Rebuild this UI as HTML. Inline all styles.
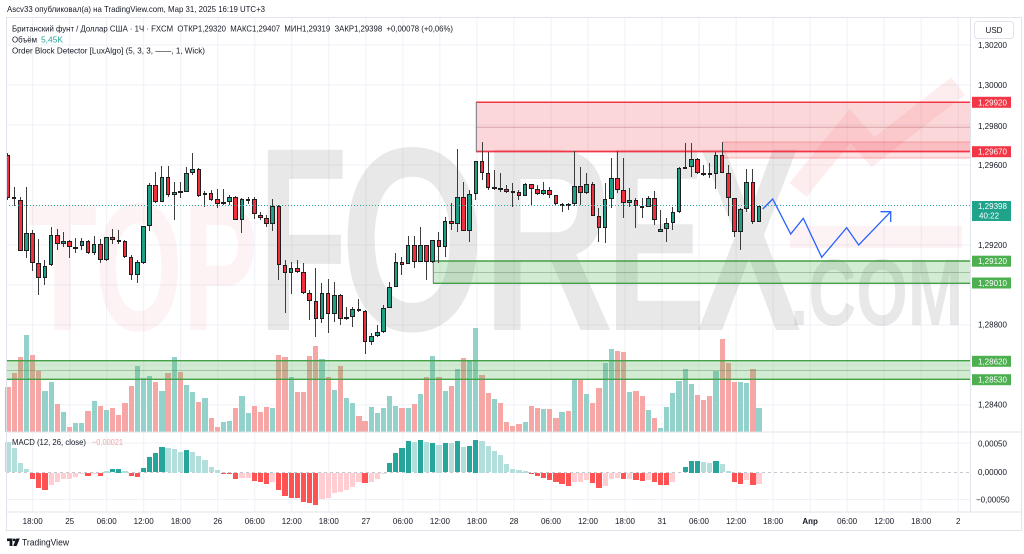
<!DOCTYPE html>
<html><head><meta charset="utf-8">
<style>
html,body{margin:0;padding:0;background:#fff;overflow:hidden;width:1024px;height:554px;}
.L{position:absolute;left:0;top:0;width:1024px;height:554px;}
svg{display:block;font-family:"Liberation Sans","DejaVu Sans",sans-serif;}
.ax{font-size:8px;fill:#131722;}
.wl{font-size:8px;fill:#fff;}
.row{position:absolute;left:4.915px;top:0;height:554px;display:flex;}
.row>i{position:relative;display:block;width:6.17px;height:554px;flex:none;font-style:normal;}
.vr>i::before{content:"";position:absolute;left:0.5px;width:5.2px;top:calc(var(--v)*1px);height:calc((431.7 - var(--v))*1px);background:#f6a7a5;}
.vr>i.g::before{background:#92d2cb;}
.cr>i::before{content:"";position:absolute;left:2.585px;width:1px;top:calc(var(--h)*1px);height:calc((var(--l) - var(--h))*1px);background:#3d3d3d;}
.cr>i::after{content:"";position:absolute;box-sizing:border-box;left:0.785px;width:4.6px;top:calc(min(var(--o),var(--c))*1px);height:calc(max(1.2, max(var(--o),var(--c)) - min(var(--o),var(--c)))*1px);background:#f0303f;border:0.6px solid #1e1e1e;}
.cr>i.g::after{background:#1f9f86;}
.mr>i::before{content:"";position:absolute;left:0.5px;width:5.2px;top:calc(min(var(--m),472.5)*1px);height:calc(max(0.8, var(--m) - 472.5, 472.5 - var(--m))*1px);background:#ff5252;}
.mr>i.G::before{background:#26a69a;}
.mr>i.g::before{background:#b2dfdb;}
.mr>i.r::before{background:#ffcdd2;}
.mr>i.x::before{display:none;}
</style></head><body>
<!-- Layer 1: background, grid, watermark -->
<svg class="L" width="1024" height="554" viewBox="0 0 1024 554" xmlns="http://www.w3.org/2000/svg">
<rect width="1024" height="554" fill="#fff"/>
<defs><clipPath id="mp"><rect x="6" y="18" width="964" height="414"/></clipPath></defs>
<g stroke="#eef1f7" stroke-width="1">
<line x1="32.7" y1="18" x2="32.7" y2="512"/><line x1="69.7" y1="18" x2="69.7" y2="512"/><line x1="106.7" y1="18" x2="106.7" y2="512"/><line x1="143.7" y1="18" x2="143.7" y2="512"/>
<line x1="180.8" y1="18" x2="180.8" y2="512"/><line x1="217.8" y1="18" x2="217.8" y2="512"/><line x1="254.8" y1="18" x2="254.8" y2="512"/><line x1="291.8" y1="18" x2="291.8" y2="512"/>
<line x1="328.8" y1="18" x2="328.8" y2="512"/><line x1="365.9" y1="18" x2="365.9" y2="512"/><line x1="402.9" y1="18" x2="402.9" y2="512"/><line x1="439.9" y1="18" x2="439.9" y2="512"/>
<line x1="476.9" y1="18" x2="476.9" y2="512"/><line x1="513.9" y1="18" x2="513.9" y2="512"/><line x1="551" y1="18" x2="551" y2="512"/><line x1="588" y1="18" x2="588" y2="512"/>
<line x1="625" y1="18" x2="625" y2="512"/><line x1="662" y1="18" x2="662" y2="512"/><line x1="699" y1="18" x2="699" y2="512"/><line x1="736.1" y1="18" x2="736.1" y2="512"/>
<line x1="773.1" y1="18" x2="773.1" y2="512"/><line x1="810.1" y1="18" x2="810.1" y2="512"/><line x1="847.1" y1="18" x2="847.1" y2="512"/><line x1="884.1" y1="18" x2="884.1" y2="512"/>
<line x1="921.2" y1="18" x2="921.2" y2="512"/><line x1="958.2" y1="18" x2="958.2" y2="512"/>
<line x1="6" y1="45" x2="970" y2="45"/><line x1="6" y1="85" x2="970" y2="85"/><line x1="6" y1="125" x2="970" y2="125"/><line x1="6" y1="165" x2="970" y2="165"/>
<line x1="6" y1="245" x2="970" y2="245"/><line x1="6" y1="285" x2="970" y2="285"/><line x1="6" y1="325" x2="970" y2="325"/><line x1="6" y1="365" x2="970" y2="365"/>
<line x1="6" y1="405" x2="970" y2="405"/><line x1="6" y1="443" x2="970" y2="443"/><line x1="6" y1="499.5" x2="970" y2="499.5"/>
</g>
<g clip-path="url(#mp)">
<text x="28" y="330" font-size="182" font-weight="bold" fill="rgba(242,54,69,0.06)" textLength="230" lengthAdjust="spacingAndGlyphs">TOP</text>
<g font-size="262" font-weight="bold" fill="rgba(110,110,110,0.16)">
<text x="258" y="330" textLength="90" lengthAdjust="spacingAndGlyphs">F</text>
<text x="340" y="330" textLength="145" lengthAdjust="spacingAndGlyphs">O</text>
<text x="482" y="330" textLength="132" lengthAdjust="spacingAndGlyphs">R</text>
<text x="606" y="330" textLength="100" lengthAdjust="spacingAndGlyphs">E</text>
<text x="697" y="330" textLength="104" lengthAdjust="spacingAndGlyphs">X</text>
</g>
<text x="790" y="325" font-size="95" font-weight="bold" fill="rgba(110,110,110,0.16)" textLength="173" lengthAdjust="spacingAndGlyphs">.COM</text>
<polyline points="798,190 850,126 873,152 958,86" fill="none" stroke="rgba(242,54,69,0.09)" stroke-width="22"/>
<rect x="790" y="226" width="172" height="22" fill="rgba(242,54,69,0.06)"/>
</g>
</svg>

<!-- Layer 2: volume -->
<div class="L"><div class="row vr">
<i class="r" style="--v:386.7"></i><i class="r" style="--v:372.7"></i><i class="r" style="--v:356.7"></i><i class="g" style="--v:335"></i><i class="r" style="--v:355"></i>
<i class="r" style="--v:371"></i><i class="g" style="--v:391"></i><i class="g" style="--v:382"></i><i class="r" style="--v:404"></i><i class="g" style="--v:411.7"></i>
<i class="r" style="--v:427"></i><i class="g" style="--v:422.7"></i><i class="g" style="--v:422.7"></i><i class="r" style="--v:411"></i><i class="g" style="--v:401"></i>
<i class="r" style="--v:405.7"></i><i class="g" style="--v:410.3"></i><i class="r" style="--v:407.7"></i><i class="r" style="--v:415"></i><i class="r" style="--v:402.7"></i>
<i class="r" style="--v:386"></i><i class="g" style="--v:366"></i><i class="g" style="--v:378.3"></i><i class="g" style="--v:375.7"></i><i class="r" style="--v:382.3"></i>
<i class="g" style="--v:390.7"></i><i class="r" style="--v:373.3"></i><i class="g" style="--v:357.3"></i><i class="r" style="--v:372.3"></i><i class="g" style="--v:385"></i>
<i class="g" style="--v:392.3"></i><i class="r" style="--v:402.3"></i><i class="g" style="--v:397.7"></i><i class="r" style="--v:417.7"></i><i class="r" style="--v:426.7"></i>
<i class="g" style="--v:421.7"></i><i class="g" style="--v:420.7"></i><i class="r" style="--v:408.3"></i><i class="g" style="--v:396"></i><i class="g" style="--v:413.3"></i>
<i class="r" style="--v:406"></i><i class="r" style="--v:411.7"></i><i class="r" style="--v:406.7"></i><i class="g" style="--v:407.7"></i><i class="r" style="--v:355"></i>
<i class="r" style="--v:357.3"></i><i class="g" style="--v:376.7"></i><i class="r" style="--v:391.7"></i><i class="r" style="--v:391.7"></i><i class="r" style="--v:356"></i>
<i class="r" style="--v:345.7"></i><i class="g" style="--v:359"></i><i class="r" style="--v:376.7"></i><i class="g" style="--v:390"></i><i class="r" style="--v:366"></i>
<i class="g" style="--v:398.3"></i><i class="g" style="--v:403.3"></i><i class="r" style="--v:416"></i><i class="r" style="--v:421"></i><i class="g" style="--v:406.7"></i>
<i class="g" style="--v:413.3"></i><i class="g" style="--v:408.3"></i><i class="g" style="--v:396"></i><i class="g" style="--v:406"></i><i class="r" style="--v:408.3"></i>
<i class="g" style="--v:407.7"></i><i class="r" style="--v:404.3"></i><i class="g" style="--v:394"></i><i class="r" style="--v:376.7"></i><i class="g" style="--v:355.7"></i>
<i class="r" style="--v:376.7"></i><i class="g" style="--v:391"></i><i class="r" style="--v:385.7"></i><i class="g" style="--v:369"></i><i class="r" style="--v:357.7"></i>
<i class="g" style="--v:360.7"></i><i class="g" style="--v:327.7"></i><i class="r" style="--v:375"></i><i class="r" style="--v:392.7"></i><i class="g" style="--v:399"></i>
<i class="r" style="--v:403.3"></i><i class="r" style="--v:421.7"></i><i class="r" style="--v:425.7"></i><i class="r" style="--v:424"></i><i class="g" style="--v:422.3"></i>
<i class="r" style="--v:406"></i><i class="r" style="--v:408.3"></i><i class="g" style="--v:409.3"></i><i class="r" style="--v:409.3"></i><i class="r" style="--v:417.7"></i>
<i class="g" style="--v:412.3"></i><i class="r" style="--v:410.7"></i><i class="g" style="--v:379"></i><i class="r" style="--v:379"></i><i class="g" style="--v:394"></i>
<i class="r" style="--v:403.3"></i><i class="r" style="--v:388.3"></i><i class="g" style="--v:362.7"></i><i class="g" style="--v:349"></i><i class="r" style="--v:351"></i>
<i class="r" style="--v:352.3"></i><i class="g" style="--v:392.3"></i><i class="r" style="--v:391"></i><i class="r" style="--v:396"></i><i class="g" style="--v:410"></i>
<i class="r" style="--v:417.7"></i><i class="g" style="--v:427.7"></i><i class="g" style="--v:406.7"></i><i class="g" style="--v:392.7"></i><i class="g" style="--v:380.7"></i>
<i class="g" style="--v:369"></i><i class="g" style="--v:384.3"></i><i class="r" style="--v:395"></i><i class="r" style="--v:400"></i><i class="r" style="--v:396"></i>
<i class="g" style="--v:371"></i><i class="r" style="--v:339.3"></i><i class="r" style="--v:362.7"></i><i class="r" style="--v:382.3"></i><i class="g" style="--v:381.7"></i>
<i class="g" style="--v:382.7"></i><i class="r" style="--v:369"></i><i class="g" style="--v:408.3"></i>
</div></div>

<!-- Layer 3: zones -->
<svg class="L" width="1024" height="554" viewBox="0 0 1024 554" xmlns="http://www.w3.org/2000/svg">
<rect x="476" y="102" width="494" height="49.5" fill="rgba(242,54,69,0.2)"/>
<line x1="476" y1="127.3" x2="970" y2="127.3" stroke="rgba(150,70,70,0.35)" stroke-width="1"/>
<rect x="723" y="142" width="247" height="16" fill="rgba(242,54,69,0.15)"/>
<line x1="723" y1="142" x2="970" y2="142" stroke="rgba(242,54,69,0.35)" stroke-width="1"/>
<line x1="723" y1="158" x2="970" y2="158" stroke="rgba(242,54,69,0.35)" stroke-width="1"/>
<line x1="476" y1="102.3" x2="970" y2="102.3" stroke="#f23645" stroke-width="1.5"/>
<line x1="476" y1="151.5" x2="970" y2="151.5" stroke="#f23645" stroke-width="1.8"/>
<line x1="476.3" y1="102" x2="476.3" y2="152" stroke="#787b86" stroke-width="1"/>
<rect x="433" y="261" width="537" height="22.3" fill="rgba(76,175,80,0.25)"/>
<line x1="433" y1="272.5" x2="970" y2="272.5" stroke="rgba(90,130,90,0.4)" stroke-width="1"/>
<line x1="433" y1="261" x2="970" y2="261" stroke="#43a047" stroke-width="1.4"/>
<line x1="433" y1="283.3" x2="970" y2="283.3" stroke="#43a047" stroke-width="1.4"/>
<line x1="433.3" y1="261" x2="433.3" y2="283.3" stroke="#787b86" stroke-width="1"/>
<rect x="6" y="360.7" width="964" height="18.6" fill="rgba(76,175,80,0.25)"/>
<line x1="6" y1="370.5" x2="970" y2="370.5" stroke="rgba(90,130,90,0.4)" stroke-width="1"/>
<line x1="6" y1="360.7" x2="970" y2="360.7" stroke="#43a047" stroke-width="1.4"/>
<line x1="6" y1="379.3" x2="970" y2="379.3" stroke="#43a047" stroke-width="1.4"/>
<line x1="6" y1="472.5" x2="970" y2="472.5" stroke="#b2b5be" stroke-width="0.8" stroke-dasharray="3,3"/>
</svg>

<!-- Layer 4: candles -->
<div class="L"><div class="row cr">
<i class="r" style="--o:155;--c:198;--h:153;--l:200"></i><i class="r" style="--o:197;--c:199;--h:187;--l:206"></i><i class="r" style="--o:200;--c:251;--h:197;--l:251"></i><i class="g" style="--o:251;--c:233;--h:187;--l:258"></i><i class="r" style="--o:233;--c:263;--h:230;--l:271"></i>
<i class="r" style="--o:263;--c:278;--h:239;--l:295"></i><i class="g" style="--o:278;--c:266;--h:260;--l:285"></i><i class="g" style="--o:265;--c:235;--h:227;--l:266"></i><i class="r" style="--o:235;--c:244;--h:229;--l:250"></i><i class="g" style="--o:244;--c:241;--h:232;--l:247"></i>
<i class="r" style="--o:241;--c:247;--h:240;--l:258"></i><i class="g" style="--o:247.5;--c:246.5;--h:238;--l:253"></i><i class="g" style="--o:246;--c:241;--h:238;--l:250"></i><i class="r" style="--o:241;--c:253;--h:240;--l:254"></i><i class="g" style="--o:253;--c:244;--h:236;--l:255"></i>
<i class="r" style="--o:244;--c:260;--h:239;--l:263"></i><i class="g" style="--o:260;--c:237;--h:237;--l:261"></i><i class="r" style="--o:237;--c:240;--h:229;--l:244"></i><i class="r" style="--o:240;--c:241;--h:230;--l:244"></i><i class="r" style="--o:241;--c:257;--h:240;--l:258"></i>
<i class="r" style="--o:257;--c:275;--h:255;--l:280"></i><i class="g" style="--o:275;--c:262;--h:260;--l:283"></i><i class="g" style="--o:263;--c:226;--h:226;--l:264"></i><i class="g" style="--o:226;--c:185;--h:183;--l:231"></i><i class="r" style="--o:185;--c:202;--h:172;--l:203"></i>
<i class="g" style="--o:202;--c:177;--h:166;--l:202"></i><i class="r" style="--o:177;--c:195;--h:166;--l:197"></i><i class="g" style="--o:195;--c:192;--h:182;--l:220"></i><i class="r" style="--o:191;--c:192;--h:182;--l:198"></i><i class="g" style="--o:192;--c:173;--h:167;--l:192"></i>
<i class="g" style="--o:173;--c:169;--h:153;--l:175"></i><i class="r" style="--o:169;--c:196;--h:168;--l:197"></i><i class="g" style="--o:195;--c:193;--h:191;--l:207"></i><i class="r" style="--o:193;--c:200;--h:190;--l:201"></i><i class="r" style="--o:199;--c:204;--h:189;--l:208"></i>
<i class="g" style="--o:204;--c:202;--h:189;--l:205"></i><i class="g" style="--o:202;--c:197;--h:195;--l:205"></i><i class="r" style="--o:197;--c:220;--h:196;--l:220"></i><i class="g" style="--o:220;--c:199;--h:198;--l:233"></i><i class="g" style="--o:199.5;--c:199;--h:197;--l:204"></i>
<i class="r" style="--o:199;--c:214;--h:197;--l:219"></i><i class="r" style="--o:215;--c:218;--h:212;--l:220"></i><i class="r" style="--o:218;--c:224;--h:215;--l:227"></i><i class="g" style="--o:224;--c:206;--h:199;--l:231"></i><i class="r" style="--o:206;--c:265;--h:205;--l:280"></i>
<i class="r" style="--o:265;--c:273;--h:260;--l:313"></i><i class="g" style="--o:273;--c:268;--h:262;--l:294"></i><i class="r" style="--o:268;--c:272;--h:260;--l:273"></i><i class="r" style="--o:272;--c:293;--h:263;--l:294"></i><i class="r" style="--o:293;--c:301;--h:290;--l:320"></i>
<i class="r" style="--o:301;--c:319;--h:268;--l:337"></i><i class="g" style="--o:319;--c:293;--h:283;--l:323"></i><i class="r" style="--o:293;--c:314;--h:279;--l:333"></i><i class="g" style="--o:314;--c:295;--h:282;--l:322"></i><i class="r" style="--o:295;--c:319;--h:294;--l:325"></i>
<i class="g" style="--o:319;--c:317;--h:307;--l:320"></i><i class="g" style="--o:317;--c:309;--h:307;--l:327"></i><i class="r" style="--o:309;--c:311;--h:299;--l:312"></i><i class="r" style="--o:311;--c:342;--h:310;--l:354"></i><i class="g" style="--o:342;--c:336;--h:333;--l:345"></i>
<i class="g" style="--o:336;--c:332;--h:325;--l:337"></i><i class="g" style="--o:332;--c:308;--h:305;--l:333"></i><i class="g" style="--o:308;--c:287;--h:282;--l:308"></i><i class="g" style="--o:287;--c:262;--h:253;--l:287"></i><i class="r" style="--o:262;--c:265;--h:257;--l:275"></i>
<i class="g" style="--o:264;--c:245;--h:236;--l:264"></i><i class="r" style="--o:245;--c:262;--h:236;--l:268"></i><i class="g" style="--o:262;--c:245;--h:227;--l:262"></i><i class="r" style="--o:245;--c:262;--h:245;--l:280"></i><i class="g" style="--o:262;--c:240;--h:240;--l:263"></i>
<i class="r" style="--o:240;--c:247;--h:232;--l:263"></i><i class="g" style="--o:247;--c:221;--h:217;--l:257"></i><i class="r" style="--o:221;--c:224;--h:203;--l:230"></i><i class="g" style="--o:224;--c:197;--h:149;--l:232"></i><i class="r" style="--o:197;--c:231;--h:182;--l:231"></i>
<i class="g" style="--o:231;--c:194;--h:190;--l:242"></i><i class="g" style="--o:194;--c:161;--h:161;--l:200"></i><i class="r" style="--o:161;--c:173;--h:142;--l:180"></i><i class="r" style="--o:173;--c:188;--h:152;--l:190"></i><i class="g" style="--o:188;--c:187;--h:170;--l:190"></i>
<i class="r" style="--o:188;--c:189;--h:173;--l:192"></i><i class="r" style="--o:189;--c:192;--h:185;--l:193"></i><i class="r" style="--o:191;--c:191.5;--h:183;--l:207"></i><i class="r" style="--o:192;--c:196;--h:190;--l:200"></i><i class="g" style="--o:196;--c:184;--h:183;--l:196"></i>
<i class="r" style="--o:184;--c:189;--h:184;--l:205"></i><i class="r" style="--o:189;--c:194;--h:185;--l:195"></i><i class="g" style="--o:194;--c:190;--h:182;--l:195"></i><i class="r" style="--o:190;--c:195;--h:187;--l:198"></i><i class="r" style="--o:195;--c:204;--h:195;--l:205"></i>
<i class="g" style="--o:204.5;--c:204;--h:203;--l:212"></i><i class="r" style="--o:204;--c:204.5;--h:203;--l:210"></i><i class="g" style="--o:204;--c:186;--h:151;--l:206"></i><i class="r" style="--o:186;--c:193;--h:167;--l:205"></i><i class="g" style="--o:193;--c:184;--h:173;--l:194"></i>
<i class="r" style="--o:184;--c:216;--h:182;--l:216"></i><i class="r" style="--o:216;--c:228;--h:208;--l:242"></i><i class="g" style="--o:228;--c:199;--h:183;--l:243"></i><i class="g" style="--o:199;--c:178;--h:158;--l:208"></i><i class="r" style="--o:178;--c:190;--h:151;--l:193"></i>
<i class="r" style="--o:190;--c:203;--h:158;--l:218"></i><i class="g" style="--o:203;--c:200;--h:188;--l:207"></i><i class="r" style="--o:200;--c:206;--h:198;--l:228"></i><i class="r" style="--o:206;--c:207;--h:198;--l:218"></i><i class="g" style="--o:207;--c:198;--h:196;--l:207"></i>
<i class="r" style="--o:198;--c:220;--h:191;--l:225"></i><i class="g" style="--o:232;--c:229;--h:210;--l:232"></i><i class="g" style="--o:229;--c:223;--h:218;--l:242"></i><i class="g" style="--o:223;--c:212;--h:207;--l:230"></i><i class="g" style="--o:212;--c:168;--h:167;--l:213"></i>
<i class="g" style="--o:168;--c:167;--h:143;--l:169"></i><i class="g" style="--o:167;--c:159;--h:143;--l:177"></i><i class="r" style="--o:159;--c:173;--h:158;--l:174"></i><i class="r" style="--o:173;--c:173.5;--h:165;--l:176"></i><i class="r" style="--o:173;--c:174;--h:163;--l:178"></i>
<i class="g" style="--o:174;--c:155;--h:152;--l:189"></i><i class="r" style="--o:155;--c:173;--h:142;--l:173"></i><i class="r" style="--o:173;--c:198;--h:165;--l:216"></i><i class="r" style="--o:198;--c:232;--h:198;--l:237"></i><i class="g" style="--o:232;--c:209;--h:208;--l:250"></i>
<i class="g" style="--o:209;--c:182;--h:169;--l:212"></i><i class="r" style="--o:182;--c:222;--h:169;--l:224"></i><i class="g" style="--o:222;--c:206;--h:205;--l:222"></i>
</div></div>

<!-- Layer 5: MACD histogram -->
<div class="L"><div class="row mr">
<i class="g" style="--m:441.7"></i><i class="g" style="--m:448.3"></i><i class="g" style="--m:463.3"></i><i class="g" style="--m:469.3"></i><i class="R" style="--m:479.3"></i>
<i class="R" style="--m:488.3"></i><i class="R" style="--m:490"></i><i class="r" style="--m:485"></i><i class="r" style="--m:482.3"></i><i class="r" style="--m:479.3"></i>
<i class="r" style="--m:479"></i><i class="r" style="--m:477.3"></i><i class="r" style="--m:474.3"></i><i class="R" style="--m:475.7"></i><i class="r" style="--m:474"></i>
<i class="R" style="--m:476"></i><i class="g" style="--m:471"></i><i class="G" style="--m:469.3"></i><i class="G" style="--m:469"></i><i class="g" style="--m:471"></i>
<i class="R" style="--m:475.7"></i><i class="R" style="--m:476.7"></i><i class="G" style="--m:468.3"></i><i class="G" style="--m:457.3"></i><i class="G" style="--m:453.3"></i>
<i class="G" style="--m:447.3"></i><i class="g" style="--m:448.3"></i><i class="g" style="--m:449"></i><i class="g" style="--m:451.7"></i><i class="G" style="--m:450"></i>
<i class="g" style="--m:451.7"></i><i class="g" style="--m:456"></i><i class="g" style="--m:460"></i><i class="g" style="--m:466.7"></i><i class="g" style="--m:470"></i>
<i class="R" style="--m:474"></i><i class="R" style="--m:474.3"></i><i class="R" style="--m:479.3"></i><i class="r" style="--m:478.3"></i><i class="r" style="--m:477.7"></i>
<i class="R" style="--m:481"></i><i class="R" style="--m:482.3"></i><i class="R" style="--m:484.3"></i><i class="r" style="--m:481.7"></i><i class="R" style="--m:490"></i>
<i class="R" style="--m:496"></i><i class="R" style="--m:497.7"></i><i class="R" style="--m:498.3"></i><i class="R" style="--m:501.7"></i><i class="R" style="--m:503.3"></i>
<i class="R" style="--m:505"></i><i class="r" style="--m:499"></i><i class="r" style="--m:497.7"></i><i class="r" style="--m:493.3"></i><i class="r" style="--m:491.7"></i>
<i class="r" style="--m:490"></i><i class="r" style="--m:486.7"></i><i class="r" style="--m:482.3"></i><i class="R" style="--m:483.3"></i><i class="r" style="--m:481.7"></i>
<i class="r" style="--m:479.3"></i><i class="r" style="--m:474.3"></i><i class="G" style="--m:463.3"></i><i class="G" style="--m:453.3"></i><i class="G" style="--m:448.3"></i>
<i class="G" style="--m:441"></i><i class="g" style="--m:441.7"></i><i class="G" style="--m:440"></i><i class="g" style="--m:442.3"></i><i class="G" style="--m:442.7"></i>
<i class="g" style="--m:445"></i><i class="G" style="--m:442.7"></i><i class="g" style="--m:443.3"></i><i class="G" style="--m:440.7"></i><i class="g" style="--m:446.7"></i>
<i class="G" style="--m:445.7"></i><i class="G" style="--m:440"></i><i class="g" style="--m:441"></i><i class="g" style="--m:445.7"></i><i class="g" style="--m:451"></i>
<i class="g" style="--m:455"></i><i class="g" style="--m:464.3"></i><i class="g" style="--m:469"></i><i class="g" style="--m:470"></i><i class="g" style="--m:471"></i>
<i class="R" style="--m:474.3"></i><i class="R" style="--m:476"></i><i class="R" style="--m:477.7"></i><i class="R" style="--m:480"></i><i class="R" style="--m:482.3"></i>
<i class="R" style="--m:484.3"></i><i class="R" style="--m:486"></i><i class="r" style="--m:482.3"></i><i class="r" style="--m:481.7"></i><i class="r" style="--m:480"></i>
<i class="R" style="--m:483.3"></i><i class="R" style="--m:488.3"></i><i class="r" style="--m:485.7"></i><i class="r" style="--m:479.3"></i><i class="r" style="--m:478.3"></i>
<i class="R" style="--m:479.3"></i><i class="r" style="--m:479.3"></i><i class="R" style="--m:480"></i><i class="R" style="--m:480.7"></i><i class="r" style="--m:480"></i>
<i class="R" style="--m:482.3"></i><i class="R" style="--m:485"></i><i class="R" style="--m:485"></i><i class="r" style="--m:482.3"></i><i class="x" style="--m:472.5"></i>
<i class="G" style="--m:466.7"></i><i class="G" style="--m:461"></i><i class="G" style="--m:461"></i><i class="g" style="--m:461.7"></i><i class="g" style="--m:463.3"></i>
<i class="G" style="--m:461"></i><i class="g" style="--m:464.3"></i><i class="g" style="--m:471"></i><i class="R" style="--m:481.7"></i><i class="R" style="--m:484.3"></i>
<i class="r" style="--m:480"></i><i class="R" style="--m:485"></i><i class="r" style="--m:484.3"></i>
</div></div>

<!-- Layer 6: overlays, frame, text -->
<svg class="L" width="1024" height="554" viewBox="0 0 1024 554" xmlns="http://www.w3.org/2000/svg">
<line x1="6" y1="205.5" x2="970" y2="205.5" stroke="#26a69a" stroke-width="1" stroke-dasharray="1,2"/>
<polyline points="762.7,209 772.7,199 790.7,234 803.3,218.3 821.7,257.3 846.7,227.7 858.7,245 890.7,211.7" fill="none" stroke="#2962ff" stroke-width="1.3"/>
<polyline points="880.5,211.7 890.7,211.7 890.7,222" fill="none" stroke="#2962ff" stroke-width="1.3"/>

<line x1="6" y1="432" x2="1021" y2="432" stroke="#e0e3eb" stroke-width="1"/>
<line x1="6" y1="512" x2="1021" y2="512" stroke="#e0e3eb" stroke-width="1"/>
<line x1="970.5" y1="17.5" x2="970.5" y2="512" stroke="#e0e3eb" stroke-width="1"/>
<rect x="6.5" y="17.5" width="1015" height="513" fill="none" stroke="#e0e3eb" stroke-width="1"/>

<text x="7" y="12" font-size="8.5" fill="#131722" textLength="258" lengthAdjust="spacingAndGlyphs">Ascv33 опубликовал(а) на TradingView.com, Мар 31, 2025 16:19 UTC+3</text>
<text x="12" y="31.5" font-size="8.5" fill="#131722" style="white-space:pre" textLength="441" lengthAdjust="spacingAndGlyphs">Британский фунт / Доллар США · 1Ч · FXCM  ОТКР1,29320  МАКС1,29407  МИН1,29319  ЗАКР1,29398  +0,00078 (+0,06%)</text>
<text x="12" y="42.5" font-size="8.5" fill="#131722" textLength="25" lengthAdjust="spacingAndGlyphs">Объём</text>
<text x="41" y="42.5" font-size="8.5" fill="#26a69a" textLength="22" lengthAdjust="spacingAndGlyphs">5,45K</text>
<text x="12" y="53.5" font-size="8.5" fill="#131722" textLength="193" lengthAdjust="spacingAndGlyphs">Order Block Detector [LuxAlgo] (5, 3, 3, ——, 1, Wick)</text>
<text x="12" y="445" font-size="8.5" fill="#131722" textLength="74" lengthAdjust="spacingAndGlyphs">MACD (12, 26, close)</text>
<text x="92" y="445" font-size="8.5" fill="#f5a3a3" textLength="31" lengthAdjust="spacingAndGlyphs">−0,00021</text>

<rect x="974.5" y="21.5" width="39" height="17" rx="3" fill="#fff" stroke="#e0e3eb"/>
<text x="994" y="33" class="ax" text-anchor="middle">USD</text>
<text x="978" y="48" class="ax">1,30200</text>
<text x="978" y="88" class="ax">1,30000</text>
<text x="978" y="129" class="ax">1,29800</text>
<text x="978" y="168" class="ax">1,29600</text>
<text x="978" y="248" class="ax">1,29200</text>
<text x="978" y="327.5" class="ax">1,28800</text>
<text x="978" y="407.5" class="ax">1,28400</text>
<text x="978" y="446.5" class="ax">0,00050</text>
<text x="978" y="475" class="ax">0,00000</text>
<text x="976" y="502.5" class="ax">−0,00050</text>

<rect x="972" y="96.8" width="39" height="11" fill="#f23645"/>
<text x="978" y="105.3" class="wl">1,29920</text>
<rect x="972" y="146.2" width="39" height="11" fill="#f23645"/>
<text x="978" y="154.7" class="wl">1,29670</text>
<rect x="972" y="201" width="39" height="20" fill="#1fa38b"/>
<text x="978" y="209" class="wl">1,29398</text>
<text x="979" y="218.5" class="wl" fill="#d8f2ee">40:22</text>
<rect x="972" y="255.7" width="39" height="11" fill="#4caf50"/>
<text x="978" y="264.2" class="wl">1,29120</text>
<rect x="972" y="277.5" width="39" height="11" fill="#4caf50"/>
<text x="978" y="286" class="wl">1,29010</text>
<rect x="972" y="355.8" width="39" height="11" fill="#4caf50"/>
<text x="978" y="364.3" class="wl">1,28620</text>
<rect x="972" y="374.2" width="39" height="11" fill="#4caf50"/>
<text x="978" y="382.7" class="wl">1,28530</text>

<g class="ax" text-anchor="middle">
<text x="32.7" y="524">18:00</text>
<text x="69.7" y="524">25</text>
<text x="106.7" y="524">06:00</text>
<text x="143.7" y="524">12:00</text>
<text x="180.8" y="524">18:00</text>
<text x="217.8" y="524">26</text>
<text x="254.8" y="524">06:00</text>
<text x="291.8" y="524">12:00</text>
<text x="328.8" y="524">18:00</text>
<text x="365.9" y="524">27</text>
<text x="402.9" y="524">06:00</text>
<text x="439.9" y="524">12:00</text>
<text x="476.9" y="524">18:00</text>
<text x="513.9" y="524">28</text>
<text x="551" y="524">06:00</text>
<text x="588" y="524">12:00</text>
<text x="625" y="524">18:00</text>
<text x="662" y="524">31</text>
<text x="699" y="524">06:00</text>
<text x="736.1" y="524">12:00</text>
<text x="773.1" y="524">18:00</text>
<text x="810.1" y="524" font-weight="bold">Апр</text>
<text x="847.1" y="524">06:00</text>
<text x="884.1" y="524">12:00</text>
<text x="921.2" y="524">18:00</text>
<text x="958.2" y="524">2</text>
</g>

<g fill="#131722">
<rect x="7" y="538.5" width="5.5" height="2.6"/>
<rect x="9.6" y="538.5" width="2.8" height="7.5"/>
<circle cx="14.3" cy="539.9" r="1.4"/>
<polygon points="16.3,538.5 19.8,538.5 16.6,546 13.2,546"/>
</g>
<text x="22" y="545.5" font-size="9.5" fill="#131722" textLength="47" lengthAdjust="spacingAndGlyphs">TradingView</text>
</svg>
</body></html>
